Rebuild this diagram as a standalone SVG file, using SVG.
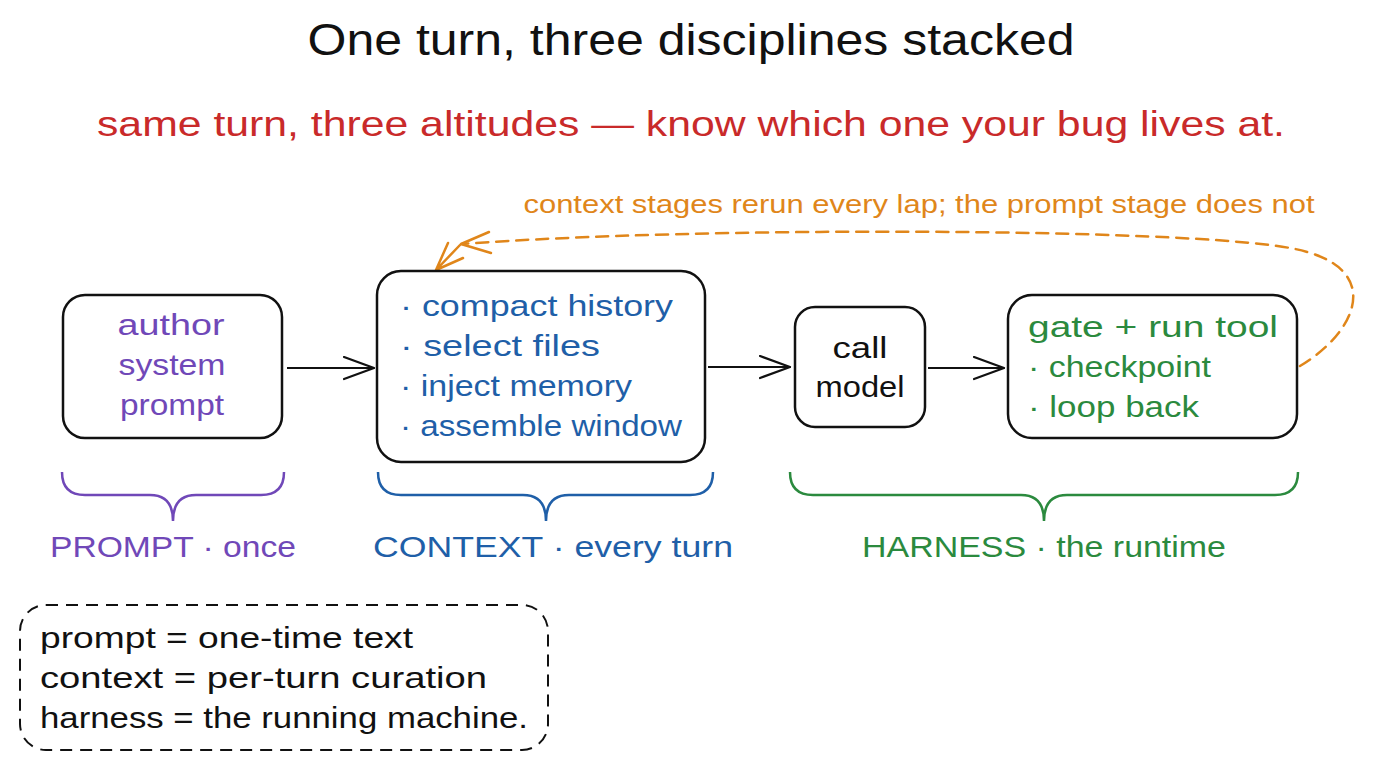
<svg xmlns="http://www.w3.org/2000/svg" width="1376" height="768" viewBox="0 0 1376 768">
<defs>
<style>
text{font-family:"Liberation Sans","Open Sans",sans-serif}
.box{fill:#fff;stroke:#111;stroke-width:2.5}
.t{font-size:30px}
.p{fill:#7048b8}.b{fill:#1f5fa8}.g{fill:#2b8a3e}.k{fill:#111}
.conn{stroke:#111;stroke-width:2.2;fill:none}
.brace{fill:none;stroke-width:2.5}
.or{fill:none;stroke:#e0861a;stroke-width:2.5;stroke-linecap:round;stroke-linejoin:round}
</style>
<marker id="ah" markerWidth="34" markerHeight="26" refX="31" refY="12" orient="auto" markerUnits="userSpaceOnUse">
<path d="M1,1 L31,12 L1,23" fill="none" stroke="#111" stroke-width="2.2" stroke-linecap="round" stroke-linejoin="round"/>
</marker>
</defs>
<rect width="1376" height="768" fill="#fff"/>
<text x="691" y="55" text-anchor="middle" font-size="44" class="k" textLength="767" lengthAdjust="spacingAndGlyphs">One turn, three disciplines stacked</text>
<text x="691" y="136" text-anchor="middle" font-size="35" fill="#c92a2a" textLength="1188" lengthAdjust="spacingAndGlyphs">same turn, three altitudes — know which one your bug lives at.</text>
<g id="connectors">
<line class="conn" x1="287" y1="368" x2="374" y2="368" marker-end="url(#ah)"/>
<line class="conn" x1="708" y1="367" x2="790" y2="367" marker-end="url(#ah)"/>
<line class="conn" x1="928" y1="368" x2="1004" y2="368" marker-end="url(#ah)"/>
<g id="loop-back">
<path class="or" d="M1300,366 C1360,330 1385,265 1290,248 C1180,228 700,226 462,244" stroke-dasharray="12 8"/>
<path class="or" d="M489,232 L461,244 L491,253"/>
<path class="or" d="M460,245 L436,270 M448,243 L436,270 L463,258"/>
</g>
<text x="919" y="213" text-anchor="middle" font-size="25" fill="#e0861a" textLength="791" lengthAdjust="spacingAndGlyphs">context stages rerun every lap; the prompt stage does not</text>
</g>
<g id="prompt">
<rect class="box" x="63" y="295" width="219" height="143" rx="22"/>
<text class="t p" x="171" y="335" text-anchor="middle" textLength="107" lengthAdjust="spacingAndGlyphs">author</text>
<text class="t p" x="172" y="375" text-anchor="middle" textLength="107" lengthAdjust="spacingAndGlyphs">system</text>
<text class="t p" x="172" y="415" text-anchor="middle" textLength="104" lengthAdjust="spacingAndGlyphs">prompt</text>
</g>
<g id="context">
<rect class="box" x="377" y="271" width="328" height="191" rx="24"/>
<text class="t b" x="400" y="316" textLength="273" lengthAdjust="spacingAndGlyphs">· compact history</text>
<text class="t b" x="400" y="356" textLength="200" lengthAdjust="spacingAndGlyphs">· select files</text>
<text class="t b" x="400" y="396" textLength="232" lengthAdjust="spacingAndGlyphs">· inject memory</text>
<text class="t b" x="400" y="436" textLength="282" lengthAdjust="spacingAndGlyphs">· assemble window</text>
</g>
<g id="call-model">
<rect class="box" x="795" y="307" width="130" height="120" rx="20"/>
<text class="t k" x="860" y="358" text-anchor="middle" textLength="55" lengthAdjust="spacingAndGlyphs">call</text>
<text class="t k" x="860" y="397" text-anchor="middle" textLength="89" lengthAdjust="spacingAndGlyphs">model</text>
</g>
<g id="harness">
<rect class="box" x="1008" y="295" width="289" height="143" rx="24"/>
<text class="t g" x="1028" y="337" textLength="250" lengthAdjust="spacingAndGlyphs">gate + run tool</text>
<text class="t g" x="1028" y="377" textLength="183" lengthAdjust="spacingAndGlyphs">· checkpoint</text>
<text class="t g" x="1028" y="417" textLength="171" lengthAdjust="spacingAndGlyphs">· loop back</text>
</g>
<g id="prompt-brace">
<path class="brace" stroke="#7048b8" d="M62,472 Q62,495 85,495 L150,495 Q173,495 173,521 Q173,495 196,495 L261,495 Q284,495 284,472"/>
<text class="t p" x="173" y="557" text-anchor="middle" textLength="246" lengthAdjust="spacingAndGlyphs">PROMPT · once</text>
</g>
<g id="context-brace">
<path class="brace" stroke="#1f5fa8" d="M378,472 Q378,495 401,495 L523,495 Q546,495 546,521 Q546,495 569,495 L690,495 Q713,495 713,472"/>
<text class="t b" x="553" y="557" text-anchor="middle" textLength="360" lengthAdjust="spacingAndGlyphs">CONTEXT · every turn</text>
</g>
<g id="harness-brace">
<path class="brace" stroke="#2b8a3e" d="M790,472 Q790,495 813,495 L1021,495 Q1044,495 1044,521 Q1044,495 1067,495 L1275,495 Q1298,495 1298,472"/>
<text class="t g" x="1044" y="557" text-anchor="middle" textLength="364" lengthAdjust="spacingAndGlyphs">HARNESS · the runtime</text>
</g>
<g id="legend">
<rect x="20" y="605" width="528" height="145" rx="26" fill="none" stroke="#111" stroke-width="2" stroke-dasharray="12 8"/>
<text class="t k" x="40" y="648" textLength="373" lengthAdjust="spacingAndGlyphs">prompt = one-time text</text>
<text class="t k" x="40" y="688" textLength="447" lengthAdjust="spacingAndGlyphs">context = per-turn curation</text>
<text class="t k" x="40" y="728" textLength="488" lengthAdjust="spacingAndGlyphs">harness = the running machine.</text>
</g>
</svg>
